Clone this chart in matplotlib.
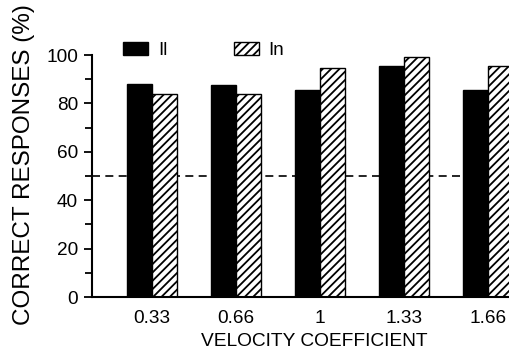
#!/usr/bin/env python3

import matplotlib.pyplot as plt
import numpy as np
from matplotlib.ticker import MultipleLocator

plt.rcParams['font.family'] = ['Liberation Sans', 'DejaVu Sans']
plt.rcParams['hatch.linewidth'] = 1.3

# Correct responses (%) for each velocity coefficient
velocity = ["0.33", "0.66", "1", "1.33", "1.66"]
values_il = [88, 87.5, 85.5, 95.5, 85.5]
values_in = [84, 84, 94.5, 99, 95.5]
chance_level = 50

x = np.arange(len(velocity))
width = 0.3

fig = plt.figure(figsize=(5.1, 3.5), dpi=100)
ax = fig.add_axes([0.1804, 0.1514, 0.8196, 0.6914])

ax.axhline(chance_level, color="black", lw=1.2, linestyle=(0, (4.8, 3.2)), zorder=1)

ax.bar(x - width / 2, values_il, width, color="black", edgecolor="black", lw=1,
       label="Il", zorder=2)
ax.bar(x + width / 2, values_in, width, color="white", edgecolor="black", lw=1,
       hatch="////", label="In", zorder=2)

ax.set_xlim(-0.714, 4.262)
ax.set_ylim(0, 100)

ax.set_xticks(x)
ax.set_xticklabels(velocity, fontsize=13.7)
ax.tick_params(axis="x", length=0, pad=9)

ax.yaxis.set_major_locator(MultipleLocator(20))
ax.yaxis.set_minor_locator(MultipleLocator(10))
ax.tick_params(axis="y", which="major", length=6, width=1.3, labelsize=13.7, pad=4)
ax.tick_params(axis="y", which="minor", length=5, width=1.3)

for side in ["top", "right"]:
    ax.spines[side].set_visible(False)
ax.spines["left"].set_linewidth(1.5)
ax.spines["bottom"].set_linewidth(1.5)

fig.text(0.047, 0.531, "CORRECT RESPONSES (%)", rotation=90, fontsize=17.5,
         ha="center", va="center")
fig.text(0.616, 0.024, "VELOCITY COEFFICIENT", fontsize=13.8, ha="center", va="center")

ax.legend(ncol=2, loc="center left", bbox_to_anchor=(0.074, 1.02), frameon=False,
          fontsize=13.5, handlelength=1.33, handleheight=0.68, handletextpad=0.53,
          columnspacing=3.55, borderpad=0, borderaxespad=0)

plt.savefig("out.png", dpi=100)
plt.close()
